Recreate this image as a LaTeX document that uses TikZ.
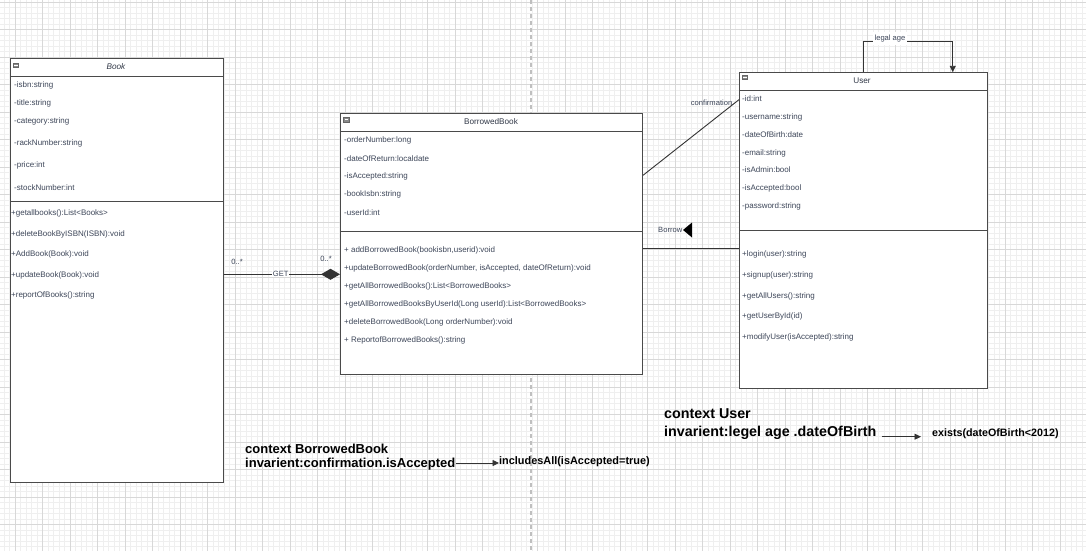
\documentclass[tikz,border=0pt]{standalone}
\usepackage{fontspec}
\setmainfont{Liberation Sans}
\usetikzlibrary{arrows.meta,shapes.geometric}
\definecolor{majorgrid}{HTML}{D8D8D8}
\definecolor{minorgrid}{HTML}{EFEFEF}
\definecolor{boxline}{HTML}{4A4A4A}
\definecolor{txtc}{HTML}{3D4659}
\definecolor{iconc}{HTML}{8A8A8A}
\tikzset{
  classbox/.style={draw=boxline, line width=1pt, fill=none, anchor=north west, inner sep=0pt},
  sepline/.style={draw=boxline, line width=1pt},
  member/.style={anchor=west, inner sep=0pt, font=\fontsize{8}{9.5}\selectfont, text=txtc},
  header/.style={inner sep=0pt, font=\fontsize{8.2}{10}\selectfont, text=txtc!80!black},
  conn/.style={draw=black!80, line width=0.9pt},
  lbl/.style={inner sep=1pt, font=\fontsize{7.6}{9}\selectfont, text=txtc},
  ocl/.style={anchor=west, inner sep=0pt, font=\bfseries\fontsize{13}{15}\selectfont, text=black},
  oclU/.style={anchor=west, inner sep=0pt, font=\bfseries\fontsize{14.3}{16}\selectfont, text=black},
  oclR/.style={anchor=west, inner sep=0pt, font=\bfseries\fontsize{10.9}{13}\selectfont, text=black},
  icon/.style={fill=iconc, draw=black!60, line width=0.4pt},
  tip/.style={-{Triangle[length=6.5pt,width=6pt]}}
}
\begin{document}
\begin{tikzpicture}[x=1pt,y=-1pt]
\useasboundingbox (0,0) rectangle (1086,551);
\fill[white] (0,0) rectangle (1086,551);
% grid
\foreach \i in {0,...,198} {\draw[minorgrid, line width=0.7pt] ({4+\i*5.5},0) -- ({4+\i*5.5},551);}
\foreach \i in {0,...,100} {\draw[minorgrid, line width=0.7pt] (0,{2+\i*5.5}) -- (1086,{2+\i*5.5});}
\foreach \i in {0,...,39} {\draw[majorgrid, line width=0.9pt] ({15+\i*27.5},0) -- ({15+\i*27.5},551);}
\foreach \i in {0,...,20} {\draw[majorgrid, line width=0.9pt] (0,{2+\i*27.5}) -- (1086,{2+\i*27.5});}
\draw[black!25, line width=1.3pt, dash pattern=on 4pt off 3pt] (531,0) -- (531,551);

% ---------- Book ----------
\node[classbox, fill=white, minimum width=212.5pt, minimum height=424pt] (book) at (10.3,58.3) {};
\draw[sepline] (10.3,76) -- (222.8,76);
\draw[sepline] (10.3,201.5) -- (222.8,201.5);
\draw[icon] (13,63) rectangle (18.5,67.5);
\draw[white, line width=0.5pt] (14,65.2) -- (17.5,65.2);
\node[header, font=\itshape\fontsize{8.2}{10}\selectfont] (bookh) at (116,67) {Book};
\node[member] (b1) at (14,85) {-isbn:string};
\node[member] (b2) at (14,103.3) {-title:string};
\node[member] (b3) at (14,121.3) {-category:string};
\node[member] (b4) at (14,143.3) {-rackNumber:string};
\node[member] (b5) at (14,165.3) {-price:int};
\node[member] (b6) at (14,188) {-stockNumber:int};
\node[member] (b7) at (11,213.3) {+getallbooks():List<Books>};
\node[member] (b8) at (11,234.3) {+deleteBookByISBN(ISBN):void};
\node[member] (b9) at (11,254.3) {+AddBook(Book):void};
\node[member] (b10) at (11,275) {+updateBook(Book):void};
\node[member] (b11) at (11,295) {+reportOfBooks():string};

% ---------- BorrowedBook ----------
\node[classbox, fill=white, minimum width=302pt, minimum height=261pt] (bb) at (340,113.3) {};
\draw[sepline] (340,131) -- (642,131);
\draw[sepline] (340,231) -- (642,231);
\draw[icon] (343.5,117.5) rectangle (349,122);
\draw[white, line width=0.5pt] (344.5,119.7) -- (348,119.7);
\node[header] (bbh) at (491,122) {BorrowedBook};
\node[member] (c1) at (344,140) {-orderNumber:long};
\node[member] (c2) at (344,158.3) {-dateOfReturn:localdate};
\node[member] (c3) at (344,176) {-isAccepted:string};
\node[member] (c4) at (344,194.3) {-bookIsbn:string};
\node[member] (c5) at (344,212.3) {-userId:int};
\node[member] (c6) at (344,250.7) {+ addBorrowedBook(bookisbn,userid):void};
\node[member] (c7) at (344,268.3) {+updateBorrowedBook(orderNumber, isAccepted, dateOfReturn):void};
\node[member] (c8) at (344,286) {+getAllBorrowedBooks():List<BorrowedBooks>};
\node[member] (c9) at (344,304) {+getAllBorrowedBooksByUserId(Long userId):List<BorrowedBooks>};
\node[member] (c10) at (344,322) {+deleteBorrowedBook(Long orderNumber):void};
\node[member] (c11) at (344,340) {+ ReportofBorrowedBooks():string};

% ---------- User ----------
\node[classbox, fill=white, minimum width=247.5pt, minimum height=315.7pt] (user) at (739,72.3) {};
\draw[sepline] (739,90) -- (986.5,90);
\draw[sepline] (739,230) -- (986.5,230);
\draw[icon] (742,75) rectangle (747.5,79.5);
\draw[white, line width=0.5pt] (743,77.2) -- (746.5,77.2);
\node[header] (userh) at (862,81) {User};
\node[member] (u1) at (742,99) {-id:int};
\node[member] (u2) at (742,117.3) {-username:string};
\node[member] (u3) at (742,135) {-dateOfBirth:date};
\node[member] (u4) at (742,153) {-email:string};
\node[member] (u5) at (742,170) {-isAdmin:bool};
\node[member] (u6) at (742,188.3) {-isAccepted:bool};
\node[member] (u7) at (742,206.3) {-password:string};
\node[member] (u8) at (742,254.3) {+login(user):string};
\node[member] (u9) at (742,275.7) {+signup(user):string};
\node[member] (u10) at (742,296.3) {+getAllUsers():string};
\node[member] (u11) at (742,316.3) {+getUserById(id)};
\node[member] (u12) at (742,337.3) {+modifyUser(isAccepted):string};

% ---------- connectors ----------
% GET aggregation
\draw[conn, -{Diamond[length=19pt,width=11pt]}] ([yshift=-3.5pt]book.east) -- ([yshift=-3.5pt]book.east -| bb.west)
  node[pos=0.49, fill=white, inner sep=0.5pt, font=\fontsize{7.6}{9}\selectfont, text=txtc] (getl) {GET};
\node[lbl] (m1) at (237,261.7) {0..*};
\node[lbl] (m2) at (326,259) {0..*};

% Borrow
\draw[conn] ([yshift=-4.3pt]bb.east) -- ([yshift=-4.3pt]bb.east -| user.west);
\node[lbl, anchor=east, inner sep=0pt] (borrowl) at (682.5,230) {Borrow};
\fill[black] (683,230) -- (692,222.5) -- (692,237.5) -- cycle;

% confirmation
\draw[conn] ([yshift=69pt]bb.east) -- ([yshift=131pt]user.west);
\node[lbl, anchor=east, inner sep=0pt] (confl) at (732.5,103) {confirmation};

% legal age self association
\coordinate (la1) at ([yshift=31pt]user.north);
\coordinate (la2) at ([xshift=89.5pt,yshift=31pt]user.north);
\draw[conn, tip] (user.north) -- (la1) -- (la2) -- ([xshift=89.5pt]user.north);
\node[lbl, fill=white, inner xsep=2pt, inner ysep=3pt] (legal) at (890,38.5) {legal age};

% ---------- OCL constraints ----------
\node[ocl] (ctx1) at (245,449) {context BorrowedBook};
\node[ocl] (inv1) at (245,464) {invarient:confirmation.isAccepted};
\node[oclR] (res1) at (499,461.5) {includesAll(isAccepted=true)};
\draw[black!80, line width=0.8pt, tip] (inv1.east |- 0,463) -- (res1.west |- 0,463);

\node[oclU] (ctx2) at (664,413.3) {context User};
\node[oclU] (inv2) at (664,433.3) {invarient:legel age .dateOfBirth};
\node[oclR, font=\bfseries\fontsize{10.7}{13}\selectfont] (res2) at (932,434) {exists(dateOfBirth<2012)};
\draw[black!80, line width=0.8pt, tip, shorten <=5pt, shorten >=11pt] (inv2.east |- 0,436.7) -- (res2.west |- 0,436.7);
\end{tikzpicture}
\end{document}
